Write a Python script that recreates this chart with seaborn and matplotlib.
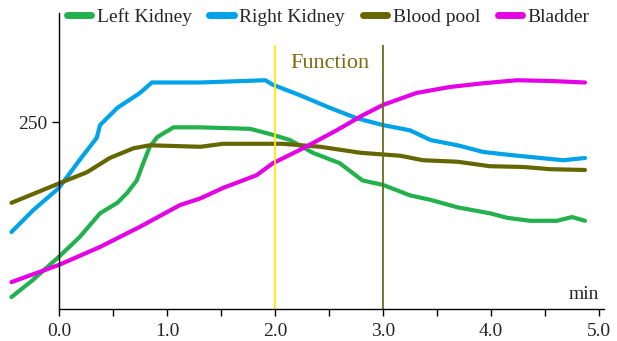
import matplotlib
matplotlib.use("Agg")
import matplotlib.pyplot as plt
from matplotlib.lines import Line2D
from matplotlib.ticker import FixedLocator, FormatStrFormatter
import numpy as np
import pandas as pd
import seaborn as sns

# Renogram time-activity curves (time in minutes, counts)
series_names = ["Left Kidney", "Right Kidney", "Blood pool", "Bladder"]
series_colors = ["#22B14C", "#00A2E8", "#666600", "#E600E6"]

left_t = [-0.44, -0.24, 0.0, 0.19, 0.38, 0.54, 0.63, 0.72, 0.78, 0.84, 0.91, 1.06,
          1.31, 1.77, 1.98, 2.14, 2.35, 2.60, 2.81, 3.0, 3.25, 3.44, 3.69, 3.99,
          4.15, 4.36, 4.61, 4.75, 4.87]
left_v = [16, 39, 70, 96, 128, 142, 155, 172, 195, 217, 230, 243,
          243, 241, 233, 226, 209, 195, 172, 166, 152, 146, 136, 128,
          122, 118, 118, 123, 118]

right_t = [-0.44, -0.24, 0.0, 0.21, 0.35, 0.38, 0.54, 0.75, 0.86, 1.31, 1.91, 1.98,
           2.23, 2.51, 2.76, 3.0, 3.25, 3.44, 3.69, 3.93, 4.18, 4.39, 4.67, 4.87]
right_v = [103, 132, 162, 203, 229, 246, 269, 289, 303, 303, 306, 300,
           286, 269, 255, 246, 239, 226, 219, 210, 206, 203, 199, 202]

blood_t = [-0.44, 0.0, 0.26, 0.47, 0.69, 0.84, 1.31, 1.52, 2.07, 2.42, 2.79, 3.16,
           3.37, 3.69, 3.99, 4.30, 4.55, 4.87]
blood_v = [142, 168, 183, 202, 215, 219, 217, 221, 221, 217, 209, 205,
           199, 197, 191, 190, 187, 186]

bladder_t = [-0.44, 0.0, 0.38, 0.75, 1.12, 1.31, 1.52, 1.83, 1.98, 2.26, 2.57, 2.81,
             3.0, 3.31, 3.62, 3.93, 4.24, 4.55, 4.87]
bladder_v = [36, 59, 83, 110, 139, 148, 162, 179, 195, 215, 239, 259,
             273, 289, 297, 302, 306, 305, 303]

x_ticks = [0.0, 1.0, 2.0, 3.0, 4.0, 5.0]
x_minor_ticks = [0.5, 1.5, 2.5, 3.5, 4.5]
y_ticks = [250]
phase_marks = [2.0, 3.0]

frames = []
for name, t, v in [("Left Kidney", left_t, left_v), ("Right Kidney", right_t, right_v),
                   ("Blood pool", blood_t, blood_v), ("Bladder", bladder_t, bladder_v)]:
    frames.append(pd.DataFrame({"time": t, "counts": v, "curve": name}))
df = pd.concat(frames, ignore_index=True)

sns.set_style("white")
plt.rcParams["font.family"] = ["Liberation Serif", "DejaVu Serif"]

fig = plt.figure(figsize=(6.17, 3.41), dpi=100)
ax = fig.add_axes([0.0, 0.0938, 608 / 617, 0.962 - 0.0938])

palette = dict(zip(series_names, series_colors))
sns.lineplot(data=df, x="time", y="counts", hue="curve", palette=palette,
             hue_order=series_names, linewidth=3.0, legend=False, ax=ax,
             estimator=None, sort=False)

ax.set_xlim(-0.546, 5.083)
ax.set_ylim(0, 396)

# phase markers
ax.vlines(phase_marks[0], 0, 353, color="#FFEA00", linewidth=1.3)
ax.vlines(phase_marks[1], 0, 353, color="#6B6B1A", linewidth=1.3)
ax.text(2.51, 328, "Function", color="#7A6A10", fontsize=16, ha="center", va="center")

# axes styling
for s in ["top", "right"]:
    ax.spines[s].set_visible(False)
ax.spines["left"].set_position(("data", 0))
ax.spines["bottom"].set_bounds(0, 5.05)
for s in ["left", "bottom"]:
    ax.spines[s].set_color("black")
    ax.spines[s].set_linewidth(1.0)

ax.set_xticks(x_ticks)
ax.xaxis.set_major_formatter(FormatStrFormatter("%.1f"))
ax.xaxis.set_minor_locator(FixedLocator(x_minor_ticks))
ax.set_yticks(y_ticks)
ax.tick_params(axis="both", which="both", direction="out", length=5, width=1,
               color="black", labelsize=14, bottom=True, left=True)
ax.tick_params(axis="x", pad=5)
ax.set_xlabel("")
ax.set_ylabel("")
ax.text(5.0, 8, "min", fontsize=14, ha="right", va="bottom")

handles = [Line2D([0], [0], color=c, linewidth=5, solid_capstyle="round")
           for c in series_colors]
fig.legend(handles, series_names, loc="center", bbox_to_anchor=(0.532, 0.95),
           ncol=4, frameon=False, fontsize=14, handlelength=1.25,
           handletextpad=0.3, columnspacing=0.9, borderaxespad=0)

fig.savefig("out.png", dpi=100)
